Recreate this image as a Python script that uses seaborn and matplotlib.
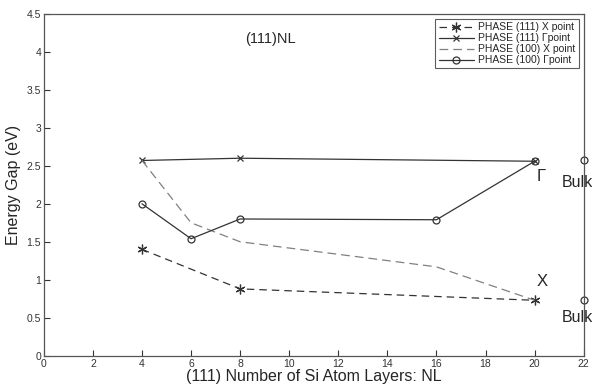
import numpy as np
import pandas as pd
import matplotlib
matplotlib.use("Agg")
import matplotlib.pyplot as plt
import seaborn as sns

# data
nl_111 = [4, 8, 20]
x111 = [1.40, 0.88, 0.73]
g111 = [2.57, 2.60, 2.56]
nl_100 = [4, 6, 8, 16, 20]
x100 = [2.57, 1.75, 1.50, 1.17, 0.73]
g100 = [2.00, 1.54, 1.80, 1.79, 2.56]
bulk_nl = [22, 22]
bulk_gap = [2.57, 0.73]

labels = ["PHASE (111) X point", "PHASE (111) \u0393point",
          "PHASE (100) X point", "PHASE (100) \u0393point"]

sns.set_style("white")
plt.rcParams["font.family"] = ["Liberation Sans", "DejaVu Sans"]

fig = plt.figure(figsize=(5.92, 3.85), dpi=100)
ax = fig.add_axes([0.074, 0.076, 0.912, 0.888])

df111 = pd.DataFrame({"nl": nl_111, "x": x111, "g": g111})
df100 = pd.DataFrame({"nl": nl_100, "x": x100, "g": g100})

sns.lineplot(data=df111, x="nl", y="x", ax=ax, color="#333333", lw=0.9,
             linestyle=(0, (6, 4)), marker=(6, 2, 0), markersize=7,
             markeredgewidth=0.9, markeredgecolor="#333333", label=labels[0])
sns.lineplot(data=df111, x="nl", y="g", ax=ax, color="#333333", lw=0.9,
             marker="x", markersize=5, markeredgewidth=0.9,
             markeredgecolor="#333333", label=labels[1])
sns.lineplot(data=df100, x="nl", y="x", ax=ax, color="#808080", lw=0.9,
             linestyle=(0, (7, 4)), marker="", label=labels[2])
sns.lineplot(data=df100, x="nl", y="g", ax=ax, color="#333333", lw=0.9,
             marker="o", markersize=5, markerfacecolor="none",
             markeredgewidth=0.9, markeredgecolor="#333333", label=labels[3])

# bulk values sitting on the right spine
ax.plot(bulk_nl, bulk_gap, linestyle="none", marker="o", markersize=5,
        markerfacecolor="none", markeredgecolor="#333333", mew=0.9, clip_on=False)

ax.text(21.1, 2.28, "Bulk", fontsize=11.5, va="center", ha="left", clip_on=False)
ax.text(21.1, 0.50, "Bulk", fontsize=11.5, va="center", ha="left", clip_on=False)
ax.text(20.1, 2.36, "\u0393", fontsize=12, va="center", ha="left")
ax.text(20.1, 0.98, "X", fontsize=12, va="center", ha="left")
ax.text(8.2, 4.17, "(111)NL", fontsize=10.5, va="center", ha="left")

ax.set_xlim(0, 22)
ax.set_ylim(0, 4.5)
ax.set_xticks(np.arange(0, 23, 2))
ax.set_yticks(np.arange(0, 4.6, 0.5))
ax.set_yticklabels(["0", "0.5", "1", "1.5", "2", "2.5", "3", "3.5", "4", "4.5"])
ax.tick_params(direction="in", length=4, width=0.8, labelsize=7.5, colors="#333333",
               bottom=True, left=True, pad=2)
for s in ax.spines.values():
    s.set_color("#555555")
    s.set_linewidth(0.9)

ax.set_xlabel("(111) Number of Si Atom Layers: NL", fontsize=11.5, labelpad=0)
ax.set_ylabel("Energy Gap (eV)", fontsize=11.5, labelpad=4)

leg = ax.legend(loc="upper right", fontsize=7.5, frameon=True, fancybox=False,
                edgecolor="#333333", handlelength=3.4, handletextpad=0.4,
                borderpad=0.3, labelspacing=0.1, borderaxespad=0.5)
leg.get_frame().set_linewidth(0.8)

fig.savefig("out.png", dpi=100)
